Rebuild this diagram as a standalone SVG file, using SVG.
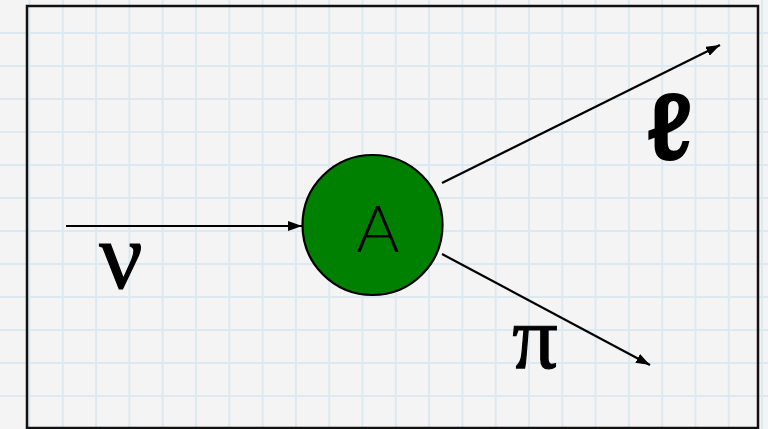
<svg xmlns="http://www.w3.org/2000/svg" width="768" height="429" viewBox="0 0 768 429">
  <defs>
    <marker id="arr" viewBox="0 0 14 10" refX="14" refY="5" markerWidth="14" markerHeight="10" markerUnits="userSpaceOnUse" orient="auto">
      <path d="M0,0 L14,5 L0,10 Z" fill="#000"/>
    </marker>
    <style>
      .grid { stroke: #dde9f0; stroke-width: 2; fill: none; }
      .edge { stroke: #000; stroke-width: 2.2; fill: none; marker-end: url(#arr); }
      .greek { font-family: "Liberation Serif", "DejaVu Serif", serif; fill: #000; stroke: #000; stroke-width: 1.2; }
    </style>
  </defs>
  <rect x="0" y="0" width="768" height="429" fill="#f4f4f4"/>
  <path class="grid" d="M29.5,0V429M62.8,0V429M96.1,0V429M129.4,0V429M162.7,0V429M196,0V429M229.3,0V429M262.6,0V429M295.9,0V429M329.2,0V429M362.5,0V429M395.8,0V429M429.1,0V429M462.4,0V429M495.7,0V429M529,0V429M562.3,0V429M595.6,0V429M628.9,0V429M662.2,0V429M695.5,0V429M728.8,0V429M762.1,0V429M0,33H768M0,66H768M0,99H768M0,132H768M0,165H768M0,198H768M0,231H768M0,264H768M0,297H768M0,330H768M0,363H768M0,396H768"/>
  <g id="frame">
    <rect x="27" y="6" width="731" height="422" fill="none" stroke="#111" stroke-width="2.5"/>
  </g>
  <g id="connectors">
    <line class="edge" x1="66" y1="226" x2="302" y2="226"/>
    <line class="edge" x1="442" y1="183" x2="720" y2="45"/>
    <line class="edge" x1="442" y1="254" x2="650" y2="365"/>
  </g>
  <g id="nodeA">
    <circle cx="372.5" cy="225" r="70" fill="#008000" stroke="#000" stroke-width="2.2"/>
    <text x="378" y="252" font-family="Lato, 'Liberation Sans', sans-serif" font-weight="300" font-size="66" text-anchor="middle" fill="#000">A</text>
  </g>
  <g id="label-nu">
    <text class="greek" x="121" y="288" font-size="96" text-anchor="middle">ν</text>
  </g>
  <g id="label-pi">
    <text class="greek" x="535" y="368" font-size="90" text-anchor="middle">π</text>
  </g>
  <g id="label-ell">
    <text x="670" y="160" font-family="'Liberation Sans', sans-serif" font-weight="bold" font-size="96" text-anchor="middle" fill="#000">ℓ</text>
  </g>
</svg>
